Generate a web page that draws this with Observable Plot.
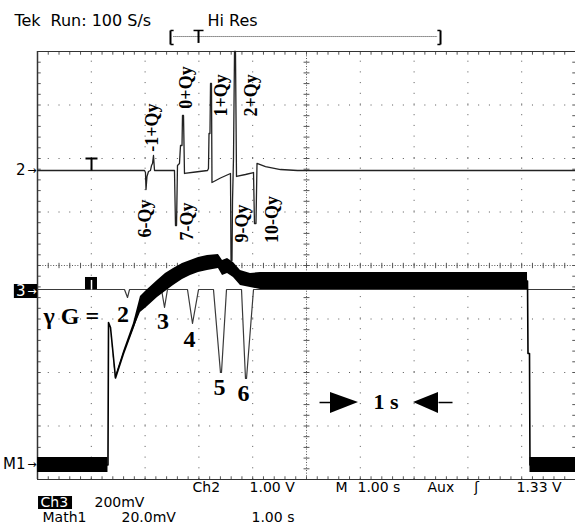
<!DOCTYPE html>
<html><head><meta charset="utf-8">
<script src="https://cdn.jsdelivr.net/npm/d3@7"></script>
<script src="https://cdn.jsdelivr.net/npm/@observablehq/plot@0.6"></script>
<style>html,body{margin:0;padding:0;background:#fff;} #chart svg{display:block;}</style>
</head><body><div id="chart"></div>
<script>
// Time: seconds from the left edge of the screen (1 s/div). Level: screen divisions from centre.
const ch2Time  = [0, 1.989, 2.007, 2.017, 2.035, 2.063, 2.100, 2.119, 2.138, 2.156, 2.175, 2.546, 2.565, 2.584, 2.602, 2.639, 2.658, 2.686, 2.695, 2.714, 2.732, 2.937, 3.160, 3.178, 3.188, 3.206, 3.216, 3.234, 3.243, 3.401, 3.587, 3.597, 3.615, 3.625, 3.643, 3.662, 3.680, 3.699, 3.866, 4.015, 4.033, 4.061, 4.080, 4.238, 4.517, 4.833, 10];
const ch2Level = [1.776, 1.776, 1.738, 1.421, 1.664, 1.757, 1.776, 1.869, 1.907, 2.056, 1.776, 1.776, 0.748, 0.748, 1.869, 1.907, 2.243, 2.243, 2.804, 2.804, 1.720, 1.748, 1.776, 1.813, 2.467, 2.467, 3.402, 3.402, 1.551, 1.636, 1.720, 0.093, 0.093, 1.215, 2.000, 4.000, 4.000, 1.664, 1.701, 1.738, 0.785, 0.785, 1.907, 1.850, 1.794, 1.776, 1.776];

const ch3Time  = [0, 1.617, 1.673, 1.710, 2.305, 2.361, 2.416, 2.788, 2.881, 2.993, 3.271, 3.401, 3.420, 3.513, 3.792, 3.866, 3.885, 4.015, 10];
const ch3Level = [-0.449, -0.449, -0.598, -0.449, -0.449, -0.785, -0.449, -0.449, -1.084, -0.449, -0.449, -2.000, -2.000, -0.449, -0.449, -2.112, -2.112, -0.449, -0.449];

const math1Time  = [0, 1.310, 1.320, 1.357, 1.450, 1.599, 1.784, 1.914, 2.026, 2.230, 2.379, 2.528, 2.695, 2.844, 2.993, 3.160, 3.364, 3.439, 3.532, 3.643, 3.773, 3.959, 4.145, 9.108, 9.117, 9.145, 9.154, 10];
const math1Upper = [-3.589, -3.589, -1.065, -1.159, -2.075, -1.607, -1.084, -0.579, -0.467, -0.280, -0.150, -0.056, 0.037, 0.093, 0.150, 0.187, 0.206, 0.093, 0.131, 0.056, -0.093, -0.150, -0.131, -0.131, -1.645, -1.645, -3.589, -3.589];
const math1Lower = [-3.869, -3.869, -1.065, -1.159, -2.131, -1.682, -1.196, -0.879, -0.785, -0.598, -0.486, -0.374, -0.262, -0.187, -0.131, -0.093, -0.056, -0.187, -0.150, -0.224, -0.374, -0.411, -0.449, -0.449, -1.645, -1.645, -3.869, -3.869];

const qyLabels = ["6-Qy", "-1+Qy", "7-Qy", "0+Qy", "1+Qy", "2+Qy", "9-Qy", "10-Qy"];
const qyTime   = [2.007, 2.138, 2.788, 2.770, 3.420, 3.978, 3.810, 4.368];
const qyLevel  = [0.879, 2.579, 0.822, 3.327, 3.178, 3.178, 0.785, 0.860];

const gainLabels = ["2", "3", "4", "5", "6"];
const gainTime   = [1.589, 2.333, 2.825, 3.383, 3.829];
const gainLevel  = [-0.907, -1.047, -1.383, -2.280, -2.383];

const headerLabels = ["Tek", "Run: 100 S/s", "Hi Res"];
const headerTime   = [-0.428, 0.242, 3.160];
const headerWeight = ["bold", "normal", "normal"];

const footerLabels = ["Ch2", "1.00 V", "M", "1.00 s", "Aux", "ʃ", "1.33 V", "200mV", "Math1", "20.0mV", "1.00 s"];
const footerTime   = [2.881, 3.941, 5.539, 5.948, 7.249, 8.12, 8.903, 1.059, 0.093, 1.561, 3.978];
const footerLevel  = [-4.150, -4.150, -4.150, -4.150, -4.150, -4.150, -4.150, -4.430, -4.710, -4.710, -4.710];

const channelMarks = ["2", "M1"];
const channelLevel = [1.776, -3.720];

const rows = (ts, vs) => ts.map((t, i) => ({t, v: vs[i]}));
const ch2 = rows(ch2Time, ch2Level);
const ch3 = rows(ch3Time, ch3Level);
const math1 = math1Time.map((t, i) => ({t, hi: math1Upper[i], lo: math1Lower[i], mid: (math1Upper[i] + math1Lower[i]) / 2}));
const qy = qyLabels.map((s, i) => ({s, t: qyTime[i], v: qyLevel[i]}));
const gains = gainLabels.map((s, i) => ({s, t: gainTime[i], v: gainLevel[i]}));
const header = headerLabels.map((s, i) => ({s, t: headerTime[i], w: headerWeight[i]}));
const footer = footerLabels.map((s, i) => ({s, t: footerTime[i], v: footerLevel[i]}));

const gridT = [1, 2, 3, 4, 6, 7, 8, 9];
const gridV = [-3, -2, -1, 1, 2, 3];
const minorT = d3.range(0, 51).map(i => i / 5);
const minorV = d3.range(-20, 21).map(i => i / 5);

const sans = "DejaVu Sans, Verdana, sans-serif";
const serif = "Liberation Serif, Times New Roman, serif";
const G = "#555";

const chart = Plot.plot({
  width: 575, height: 526,
  marginLeft: 37, marginRight: 0, marginTop: 51, marginBottom: 47,
  x: {domain: [0, 10], axis: null},
  y: {domain: [-4, 4], axis: null},
  style: {background: "white", overflow: "visible"},
  marks: [
    // graticule
    Plot.ruleX(gridT, {y1: -4, y2: 4, stroke: G, strokeDasharray: "1 9.7"}),
    Plot.ruleY(gridV, {x1: 0, x2: 10, stroke: G, strokeDasharray: "1 9.76"}),
    Plot.ruleX([5], {y1: -4, y2: 4, stroke: G, strokeDasharray: "1 1.675"}),
    Plot.ruleY([0], {x1: 0, x2: 10, stroke: G, strokeDasharray: "1 1.69"}),
    Plot.link(minorT, {x1: d => d, x2: d => d, y1: -0.05, y2: 0.05, stroke: G}),
    Plot.link(minorV, {x1: 4.945, x2: 5.055, y1: d => d, y2: d => d, stroke: G}),
    Plot.link(minorT, {x1: d => d, x2: d => d, y1: 4, y2: 3.94, stroke: G}),
    Plot.link(minorT, {x1: d => d, x2: d => d, y1: -4, y2: -3.94, stroke: G}),
    Plot.link(minorV, {x1: 0, x2: 0.06, y1: d => d, y2: d => d, stroke: G}),
    Plot.link(minorV, {x1: 10, x2: 9.94, y1: d => d, y2: d => d, stroke: G}),
    Plot.ruleY([4, -4], {x1: 0, x2: 10, stroke: "#333"}),
    Plot.ruleX([0], {y1: -4, y2: 4, stroke: "#333", strokeWidth: 1.5}),

    // traces
    Plot.line(ch3, {x: "t", y: "v", stroke: "#3a3a3a", strokeWidth: 1.2}),
    Plot.areaY(math1, {x: "t", y1: "lo", y2: "hi", fill: "black"}),
    Plot.line(math1, {x: "t", y: "mid", stroke: "black", strokeWidth: 1.6}),
    Plot.line(ch2, {x: "t", y: "v", stroke: "#222", strokeWidth: 1.3}),

    // trigger markers
    Plot.link([0], {x1: 0.892, x2: 1.115, y1: 2.0, y2: 2.0, stroke: "black", strokeWidth: 2}),
    Plot.link([0], {x1: 1.004, x2: 1.004, y1: 2.0, y2: 1.776, stroke: "black", strokeWidth: 2}),
    Plot.rect([0], {x1: 0.892, x2: 1.115, y1: -0.224, y2: -0.449, fill: "black"}),
    Plot.link([0], {x1: 1.004, x2: 1.004, y1: -0.27, y2: -0.449, stroke: "white", strokeWidth: 1.5}),

    // channel markers
    Plot.text(channelMarks, {x: 0, y: channelLevel, dx: -12, text: d => d, textAnchor: "end", lineAnchor: "middle", fontFamily: sans, fontSize: 15, fill: "black"}),
    Plot.text(channelMarks, {x: 0, y: channelLevel, dx: -1, text: () => "→", textAnchor: "end", lineAnchor: "middle", fontFamily: sans, fontSize: 11, fill: "black"}),
    Plot.rect([0], {x1: -0.43, x2: 0, y1: -0.355, y2: -0.617, fill: "black"}),
    Plot.text(["3"], {x: 0, y: -0.486, dx: -12, text: d => d, textAnchor: "end", lineAnchor: "middle", fontFamily: sans, fontSize: 15, fill: "white"}),
    Plot.text(["→"], {x: 0, y: -0.486, dx: -1, text: d => d, textAnchor: "end", lineAnchor: "middle", fontFamily: sans, fontSize: 11, fill: "white"}),

    // annotations
    Plot.text(qy, {x: "t", y: "v", text: "s", rotate: -90, textAnchor: "middle", lineAnchor: "middle", fontFamily: serif, fontWeight: "bold", fontSize: 18, fill: "black"}),
    Plot.text(["γ G ="], {x: 0.112, y: -0.953, text: d => d, textAnchor: "start", lineAnchor: "middle", fontFamily: serif, fontWeight: "bold", fontSize: 24, fill: "black"}),
    Plot.text(gains, {x: "t", y: "v", text: "s", textAnchor: "middle", lineAnchor: "middle", fontFamily: serif, fontWeight: "bold", fontSize: 24, fill: "black"}),
    Plot.text(["1 s"], {x: 6.478, y: -2.551, text: d => d, textAnchor: "middle", lineAnchor: "middle", fontFamily: serif, fontWeight: "bold", fontSize: 22, fill: "black"}),
    Plot.link([[5.242, 5.446], [7.454, 7.714]], {x1: d => d[0], x2: d => d[1], y1: -2.561, y2: -2.561, stroke: "black", strokeWidth: 1.5}),
    Plot.areaY([{t: 5.446, lo: -2.766, hi: -2.374}, {t: 5.967, lo: -2.561, hi: -2.561}], {x: "t", y1: "lo", y2: "hi", fill: "black"}),
    Plot.areaY([{t: 6.989, lo: -2.561, hi: -2.561}, {t: 7.454, lo: -2.766, hi: -2.374}], {x: "t", y1: "lo", y2: "hi", fill: "black"}),

    // header
    Plot.text(header, {x: "t", y: 4.579, text: "s", fontWeight: "w", textAnchor: "start", lineAnchor: "middle", fontFamily: sans, fontSize: 16, fill: "black"}),
    Plot.link([0], {x1: 2.527, x2: 7.435, y1: 4.28, y2: 4.28, stroke: "#333", strokeDasharray: "1 1"}),
    Plot.link([2.472, 7.491], {x1: d => d, x2: d => d, y1: 4.393, y2: 4.131, stroke: "black", strokeWidth: 2}),
    Plot.link([[2.472, 2.53], [7.491, 7.433]], {x1: d => d[0], x2: d => d[1], y1: 4.393, y2: 4.393, stroke: "black", strokeWidth: 1.5}),
    Plot.link([[2.472, 2.53], [7.491, 7.433]], {x1: d => d[0], x2: d => d[1], y1: 4.131, y2: 4.131, stroke: "black", strokeWidth: 1.5}),
    Plot.link([0], {x1: 2.90, x2: 3.086, y1: 4.393, y2: 4.393, stroke: "black", strokeWidth: 1.5}),
    Plot.link([0], {x1: 2.993, x2: 2.993, y1: 4.393, y2: 4.16, stroke: "black", strokeWidth: 2}),

    // footer
    Plot.rect([0], {x1: 0.019, x2: 0.651, y1: -4.318, y2: -4.561, fill: "black"}),
    Plot.text(["Ch3"], {x: 0.056, y: -4.430, text: d => d, textAnchor: "start", lineAnchor: "middle", fontFamily: sans, fontSize: 14, fill: "white"}),
    Plot.text(footer, {x: "t", y: "v", text: "s", textAnchor: "start", lineAnchor: "middle", fontFamily: sans, fontSize: 14, fill: "black"})
  ]
});
document.getElementById("chart").appendChild(chart);
</script>
</body></html>
